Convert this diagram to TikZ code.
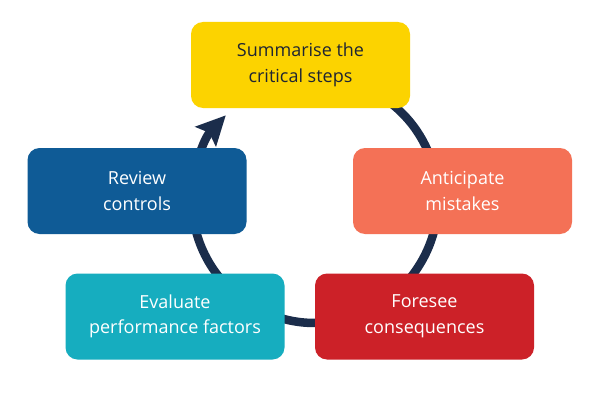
\documentclass[tikz,border=0pt]{standalone}
\usepackage{fontspec}
\setmainfont{Open Sans}
\usetikzlibrary{arrows.meta}
\definecolor{ringc}{HTML}{1B2D4B}
\definecolor{cyellow}{HTML}{FCD300}
\definecolor{cblue}{HTML}{0F5B96}
\definecolor{csalmon}{HTML}{F47156}
\definecolor{cteal}{HTML}{16ADBF}
\definecolor{cred}{HTML}{CC2128}
\definecolor{darktext}{HTML}{1E2533}
\tikzset{
  stepbox/.style={rounded corners=12pt, minimum width=219pt, minimum height=86pt,
    inner sep=0pt, align=center, text=white,
    font=\fontsize{18}{25.6}\selectfont},
  ring/.style={draw=ringc, line width=8.5pt,
    -{Stealth[length=29pt,width=28pt,inset=5pt]}}
}
\begin{document}
\begin{tikzpicture}[x=1pt,y=1pt]
\useasboundingbox (0,0) rectangle (600,400);
\fill[white] (0,0) rectangle (600,400);
% ring
\coordinate (c) at (315,200);
\draw[ring] (c) ++(60:123) arc[start angle=60, end angle=-223.5, radius=123];
% boxes
\node[stepbox, fill=cyellow, text=darktext] (summ) at (300.5,335) {Summarise the\\critical steps};
\node[stepbox, fill=cblue] (rev) at (137,209) {Review\\controls};
\node[stepbox, fill=csalmon] (anti) at (462.5,209) {Anticipate\\mistakes};
\node[stepbox, fill=cteal] (eval) at (175,83.5) {Evaluate\\performance factors};
\node[stepbox, fill=cred] (fore) at (424.5,83.5) {Foresee\\consequences};
\end{tikzpicture}
\end{document}
